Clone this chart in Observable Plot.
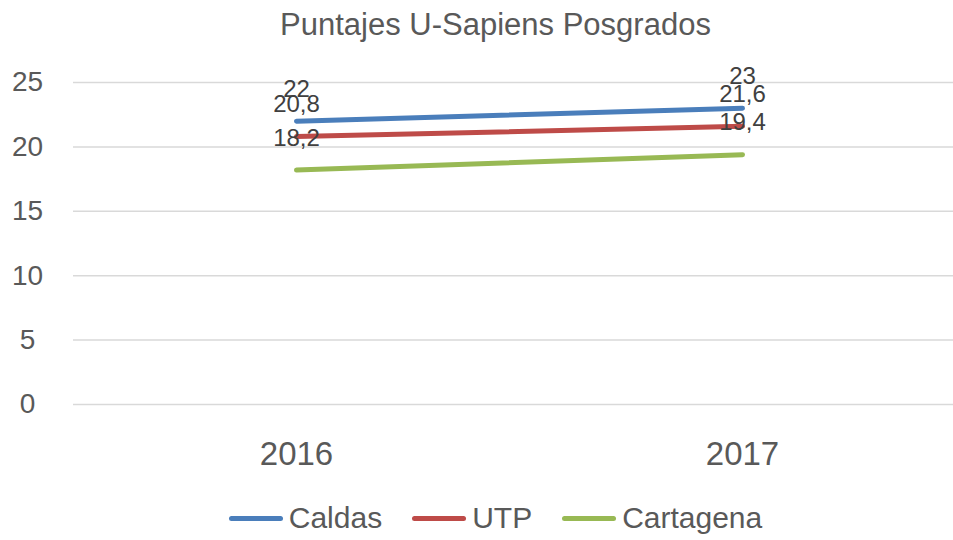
<!DOCTYPE html>
<html>
<head>
<meta charset="utf-8">
<script src="https://cdn.jsdelivr.net/npm/d3@7"></script>
<script src="https://cdn.jsdelivr.net/npm/@observablehq/plot@0.6"></script>
<style>
  html, body { margin: 0; padding: 0; background: #fff; overflow: hidden; width: 953px; height: 540px; }
  body { font-family: "Liberation Sans", Arial, sans-serif; }
  #title { height: 50px; line-height: 50px; font-size: 31px; color: #595959; text-align: center; padding-left: 38px; box-sizing: border-box; width: 953px; white-space: nowrap; }
  #legend { margin-top: 6px; height: 44px; line-height: 50px; font-size: 30px; color: #595959; display: flex; justify-content: center; align-items: center; padding-left: 38px; box-sizing: border-box; width: 953px; gap: 30px; }
  .item { display: flex; align-items: center; gap: 6px; }
  .sw { display: inline-block; width: 54px; height: 5px; border-radius: 3px; }
</style>
</head>
<body>
<div id="title">Puntajes U-Sapiens Posgrados</div>
<div id="chart"></div>
<div id="legend"></div>
<script>
const years = ["2016", "2017"];
const seriesNames = ["Caldas", "UTP", "Cartagena"];
const caldas = [22, 23];
const utp = [20.8, 21.6];
const cartagena = [18.2, 19.4];
const colors = ["#4A7EBB", "#BE4B48", "#98B954"];
const yTicks = [0, 5, 10, 15, 20, 25];

const values = [caldas, utp, cartagena];
const data = [];
seriesNames.forEach((s, i) => years.forEach((y, j) => data.push({series: s, year: y, value: values[i][j]})));

const fmt = v => String(v).replace(".", ",");

const chart = Plot.plot({
  width: 953,
  height: 440,
  marginTop: 32,
  marginBottom: 86,
  marginLeft: 73,
  marginRight: 0,
  style: {fontFamily: '"Liberation Sans", Arial, sans-serif', color: "#595959", background: "#fff"},
  x: {type: "point", domain: years, range: [296, 742], padding: 0, label: null},
  y: {domain: [0, 25], label: null},
  color: {domain: seriesNames, range: colors},
  marks: [
    Plot.gridY(yTicks, {stroke: "#D9D9D9", strokeOpacity: 1, strokeWidth: 1.5}),
    Plot.axisY(yTicks, {tickSize: 0, tickPadding: 46, textAnchor: "middle", fontSize: 28, fill: "#595959", label: null}),
    Plot.axisX({tickSize: 0, tickPadding: 37, fontSize: 33, fill: "#595959", label: null}),
    Plot.line(data, {x: "year", y: "value", z: "series", stroke: "series", strokeWidth: 5, strokeLinecap: "round"}),
    Plot.text(data, {x: "year", y: "value", text: d => fmt(d.value), dy: -32, fontSize: 24, fill: "#404040"})
  ]
});
document.getElementById("chart").appendChild(chart);

const legend = document.getElementById("legend");
seriesNames.forEach((s, i) => {
  const item = document.createElement("div");
  item.className = "item";
  const sw = document.createElement("span");
  sw.className = "sw";
  sw.style.background = colors[i];
  const t = document.createElement("span");
  t.textContent = s;
  item.appendChild(sw);
  item.appendChild(t);
  legend.appendChild(item);
});
</script>
</body>
</html>
